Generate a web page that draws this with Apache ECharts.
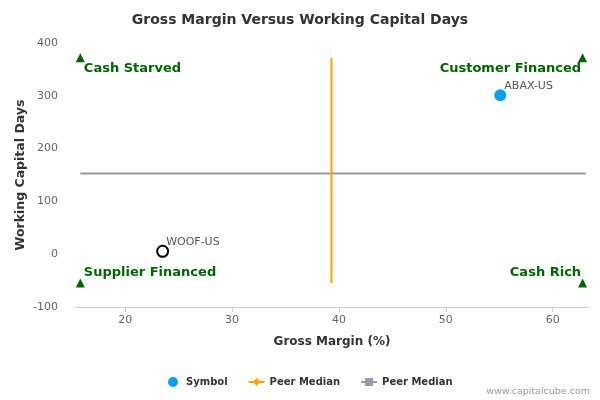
<!DOCTYPE html>
<html><head><meta charset="utf-8">
<script src="https://cdn.jsdelivr.net/npm/echarts@6/dist/echarts.min.js"></script>
<style>html,body{margin:0;padding:0;background:#fff}#c{width:600px;height:400px}</style>
</head><body><div id="c"></div>
<script>
// Data
const symbolNames = ['ABAX-US', 'WOOF-US'];
const symbolX = [55.1, 23.5];       // Gross Margin (%)
const symbolY = [301, 5.5];         // Working Capital Days
const peerMedianX = 39.3;           // vertical median line (gross margin)
const peerMedianY = 152.7;          // horizontal median line (working capital days)
const quadrantNames = ['Cash Starved', 'Customer Financed', 'Supplier Financed', 'Cash Rich'];
const quadrantX = [15.8, 62.8, 15.8, 62.8];
const quadrantY = [372, 372, -54.5, -54.5];
const xTicks = [20, 30, 40, 50, 60];
const yTicks = [-100, 0, 100, 200, 300, 400];

const FONT = 'DejaVu Sans';
const chart = echarts.init(document.getElementById('c'));

const symbolData = symbolNames.map((n, i) => {
  const d = { name: n, value: [symbolX[i], symbolY[i]] };
  if (i === 1) {
    d.itemStyle = { color: '#ffffff', borderColor: '#000000', borderWidth: 2, opacity: 1 };
    d.symbolSize = 11;
  }
  return d;
});

const quadData = quadrantNames.map((n, i) => {
  const right = quadrantX[i] > peerMedianX;
  const top = quadrantY[i] > peerMedianY;
  return {
    name: n,
    value: [quadrantX[i], quadrantY[i]],
    label: {
      position: right ? [3, top ? 9 : -12] : [8, top ? 9 : -12],
      align: right ? 'right' : 'left'
    }
  };
});

chart.setOption({
  animation: false,
  title: {
    text: 'Gross Margin Versus Working Capital Days',
    left: 'center', top: 8,
    textStyle: { fontFamily: FONT, fontSize: 14, fontWeight: 'bold', color: '#333333' }
  },
  grid: { left: 75, right: 11, top: 43, bottom: 93 },
  legend: {
    bottom: 8, left: 163,
    itemWidth: 16, itemHeight: 10, itemGap: 20,
    data: [
      { name: 'Symbol', icon: 'circle' },
      { name: 'Peer Median A' },
      { name: 'Peer Median B' }
    ],
    formatter: n => n.startsWith('Peer Median') ? 'Peer Median' : n,
    textStyle: { fontFamily: FONT, fontSize: 10, fontWeight: 'bold', color: '#333333' }
  },
  xAxis: {
    type: 'value', min: 15.3, max: 63.4,
    name: 'Gross Margin (%)', nameLocation: 'middle', nameGap: 29,
    nameTextStyle: { fontFamily: FONT, fontSize: 12, fontWeight: 'bold', color: '#333333' },
    axisLine: { show: true, onZero: false, lineStyle: { color: '#c0d0e0' } },
    axisTick: { show: true, length: 5, lineStyle: { color: '#c0d0e0' }, customValues: xTicks },
    axisLabel: { fontFamily: FONT, fontSize: 11, color: '#666666', margin: 8, customValues: xTicks },
    splitLine: { show: false }
  },
  yAxis: {
    type: 'value', min: -100, max: 400, interval: 100,
    name: 'Working Capital Days', nameLocation: 'middle', nameGap: 48, nameMoveOverlap: false,
    nameTextStyle: { fontFamily: FONT, fontSize: 12.5, fontWeight: 'bold', color: '#333333' },
    axisLine: { show: false }, axisTick: { show: false },
    axisLabel: { fontFamily: FONT, fontSize: 11, color: '#666666', margin: 17 },
    splitLine: { show: false }
  },
  series: [
    {
      name: 'Peer Median A', type: 'line',
      data: [[peerMedianX, quadrantY[2]], [peerMedianX, quadrantY[0]]],
      symbol: 'diamond', symbolSize: 8, showSymbol: false,
      itemStyle: { color: '#ffa500' },
      lineStyle: { color: '#ffa500', width: 2 },
      z: 3
    },
    {
      name: 'Peer Median B', type: 'line',
      data: [[quadrantX[0], peerMedianY], [quadrantX[1] + 0.3, peerMedianY]],
      symbol: 'rect', symbolSize: 8, showSymbol: false,
      itemStyle: { color: '#9999aa' },
      lineStyle: { color: '#9999aa', width: 2 },
      z: 2
    },
    {
      name: 'Quadrants', type: 'scatter',
      data: quadData, symbol: 'triangle', symbolSize: 9,
      itemStyle: { color: '#006400', opacity: 1 },
      label: {
        show: true, formatter: p => p.name, verticalAlign: 'top',
        fontFamily: FONT, fontSize: 13, fontWeight: 'bold', color: '#006400', opacity: 1
      },
      z: 4
    },
    {
      name: 'Symbol', type: 'scatter',
      data: symbolData, symbolSize: 12,
      itemStyle: { color: '#0a9ff0', opacity: 1 },
      label: {
        show: true, formatter: p => p.name, position: [10, -3],
        align: 'left', verticalAlign: 'middle',
        fontFamily: FONT, fontSize: 11, color: '#555555', opacity: 1
      },
      z: 5
    }
  ],
  graphic: [{
    type: 'text', right: 10, bottom: 3,
    style: { text: 'www.capitalcube.com', fontFamily: FONT, fontSize: 9.5, fill: '#999999' }
  }]
});
</script></body></html>
